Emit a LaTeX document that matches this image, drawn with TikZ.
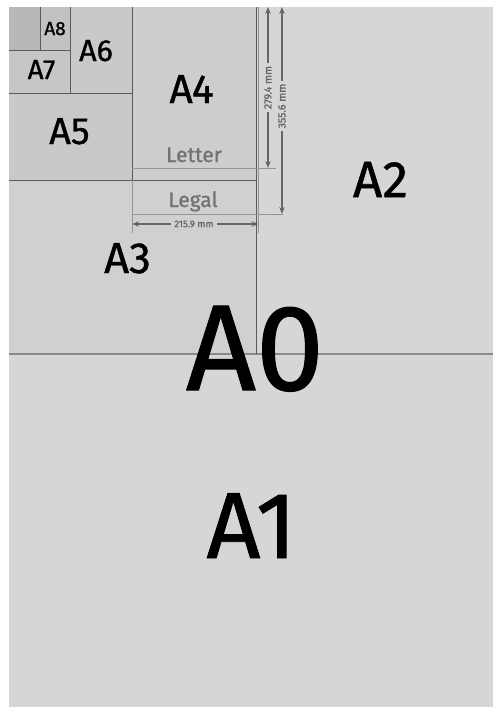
\documentclass[tikz,border=0pt]{standalone}
\usepackage{fontspec}
\setmainfont{Fira Sans}[FakeBold=1]
\usetikzlibrary{arrows.meta}
\definecolor{pagebg}{HTML}{D6D6D6}
\definecolor{athree}{HTML}{D0D0D0}
\definecolor{afour}{HTML}{CDCDCD}
\definecolor{afive}{HTML}{C9C9C9}
\definecolor{aseven}{HTML}{C6C6C6}
\definecolor{aeight}{HTML}{C2C2C2}
\definecolor{anine}{HTML}{B8B8B8}
\definecolor{edge}{HTML}{5A5A5A}
\definecolor{midline}{HTML}{8A8A8A}
\definecolor{extline}{HTML}{959595}
\definecolor{dimgrey}{HTML}{666666}
\definecolor{usgrey}{HTML}{727272}
\tikzset{
  sheetline/.style={draw=edge, line width=0.9pt},
  extline/.style={draw=extline, line width=0.9pt},
  sizelabel/.style={anchor=base, inner sep=0pt, text=black},
  uslabel/.style={anchor=base, inner sep=0pt, text=usgrey, font=\fontsize{21}{21}\selectfont},
  dimtext/.style={inner xsep=3pt, inner ysep=0pt, text=dimgrey, font=\fontsize{9.5}{9.5}\selectfont},
  vdimtext/.style={dimtext, rotate=90, font=\fontsize{10.5}{10.5}\selectfont},
  dimarrow/.style={draw=dimgrey, line width=2pt, -{Stealth[length=7pt,width=5.5pt]}}
}
\begin{document}
\begin{tikzpicture}[x=1pt,y=-1pt]
\useasboundingbox (0,0) rectangle (493,707);
\fill[white] (0,0) rectangle (493,707);
% sheets
\fill[pagebg] (9,7) rectangle (493,707);
\fill[athree] (9,7) rectangle (256,354);
\fill[afour] (132,7) rectangle (256,180);
\fill[afive] (9,7) rectangle (132,180);
\fill[aseven] (9,7) rectangle (70,93);
\fill[aeight] (40,7) rectangle (70,50);
\fill[anine] (9,7) rectangle (40,50);
% boundaries
\draw[draw=midline, line width=1.4pt] (9,354) -- (493,354);
\draw[sheetline] (256,7) -- (256,354);
\draw[sheetline] (9,180) -- (256,180);
\draw[sheetline] (132,7) -- (132,180);
\draw[sheetline] (9,93) -- (132,93);
\draw[sheetline] (70,7) -- (70,93);
\draw[sheetline] (9,50) -- (70,50);
\draw[sheetline] (40,7) -- (40,50);
% letter / legal outlines and extension lines
\draw[extline] (132,168) -- (276,168);
\draw[extline] (132,214) -- (283,214);
\draw[extline] (258.5,7) -- (258.5,233);
\draw[extline] (132,180) -- (132,233);
% labels
\node[sizelabel, font=\fontsize{122}{122}\selectfont] (a0) at (255,390) {A0};
\node[sizelabel, font=\fontsize{94}{94}\selectfont] (a1) at (251.5,558) {A1};
\node[sizelabel, font=\fontsize{51}{51}\selectfont] (a2) at (380.5,197) {A2};
\node[sizelabel, font=\fontsize{43.5}{43.5}\selectfont] (a3) at (127.5,273) {A3};
\node[sizelabel, font=\fontsize{40.5}{40.5}\selectfont] (a4) at (191.5,103) {A4};
\node[sizelabel, font=\fontsize{37.7}{37.7}\selectfont] (a5) at (69.5,144) {A5};
\node[sizelabel, font=\fontsize{30.5}{30.5}\selectfont] (a6) at (96,61) {A6};
\node[sizelabel, font=\fontsize{27.6}{27.6}\selectfont] (a7) at (41.5,79) {A7};
\node[sizelabel, font=\fontsize{19}{19}\selectfont] (a8) at (55,35) {A8};
\node[uslabel] (letter) at (194,162) {Letter};
\node[uslabel] (legal) at (193,207) {Legal};
% dimensions
\coordinate (wl) at (132,224);
\coordinate (wr) at (258.5,224);
\node[dimtext] (w) at (194,224) {215.9 mm};
\draw[dimarrow] (w.west) -- (wl);
\draw[dimarrow] (w.east) -- (wr);
\coordinate (ht) at (268,7);
\coordinate (hb) at (268,168);
\node[vdimtext] (h) at (268,87.5) {279.4 mm};
\draw[dimarrow] (h.east) -- (ht);
\draw[dimarrow] (h.west) -- (hb);
\coordinate (gt) at (282,7);
\coordinate (gb) at (282,214);
\node[vdimtext] (g) at (282,106) {355.6 mm};
\draw[dimarrow] (g.east) -- (gt);
\draw[dimarrow] (g.west) -- (gb);
\end{tikzpicture}
\end{document}
